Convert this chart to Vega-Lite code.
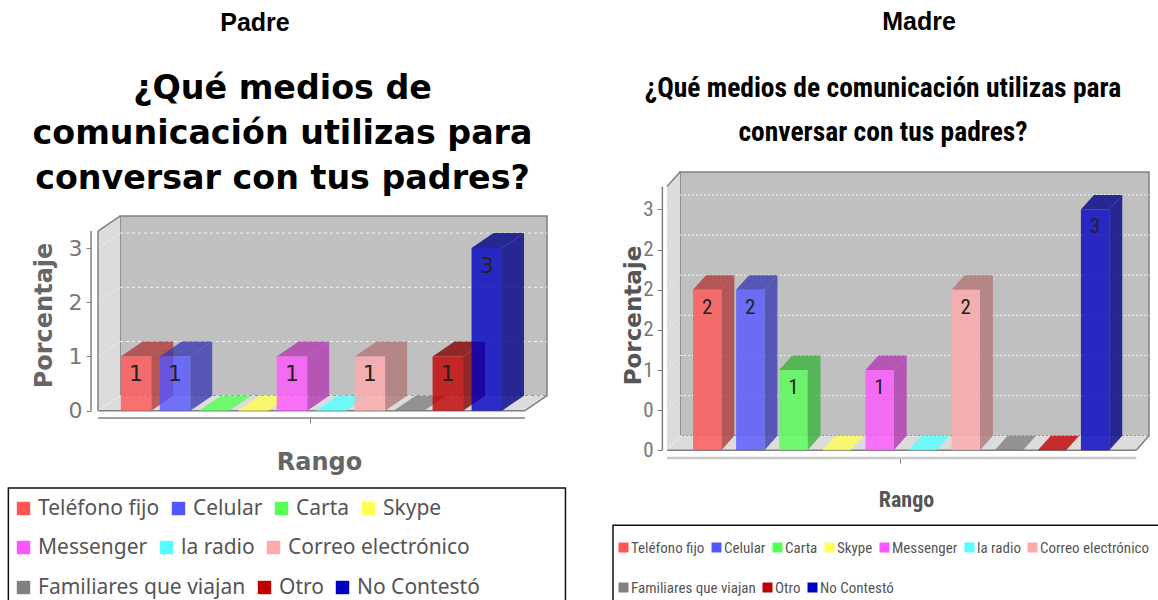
{"$schema":"https://vega.github.io/schema/vega-lite/v6.json","padding":{"left":7,"top":9,"right":0,"bottom":0},"background":"white","config":{"view":{"stroke":null},"concat":{"spacing":0}},
"datasets":{
"padre":[{"medio":"Teléfono fijo","orden":0,"valor":1},{"medio":"Celular","orden":1,"valor":1},{"medio":"Carta","orden":2,"valor":0},{"medio":"Skype","orden":3,"valor":0},{"medio":"Messenger","orden":4,"valor":1},{"medio":"la radio","orden":5,"valor":0},{"medio":"Correo electrónico","orden":6,"valor":1},{"medio":"Familiares que viajan","orden":7,"valor":0},{"medio":"Otro","orden":8,"valor":1},{"medio":"No Contestó","orden":9,"valor":3}],
"madre":[{"medio":"Teléfono fijo","orden":0,"valor":2},{"medio":"Celular","orden":1,"valor":2},{"medio":"Carta","orden":2,"valor":1},{"medio":"Skype","orden":3,"valor":0},{"medio":"Messenger","orden":4,"valor":1},{"medio":"la radio","orden":5,"valor":0},{"medio":"Correo electrónico","orden":6,"valor":2},{"medio":"Familiares que viajan","orden":7,"valor":0},{"medio":"Otro","orden":8,"valor":0},{"medio":"No Contestó","orden":9,"valor":3}],
"gridP":[{"v":0},{"v":1},{"v":2},{"v":3}],
"gridM":[{"v":0},{"v":0.5},{"v":1},{"v":1.5},{"v":2},{"v":2.5},{"v":3}],
"marco":[{"parte":"marco"}]},
"hconcat":[
{"title":{"text":"Padre","font":"Liberation Sans","fontSize":25,"fontWeight":"bold","color":"#000000","anchor":"start","frame":"group","align":"center","dx":157,"offset":36},
"vconcat":[{
"title":{"text":["¿Qué medios de","comunicación utilizas para","conversar con tus padres?"],"font":"DejaVu Sans","fontSize":33.3,"fontWeight":"bold","color":"#000000","lineHeight":45,"anchor":"middle","dx":-40,"offset":0,"dy":24},
"width":449,"height":246,
"resolve":{"scale":{"color":"independent"},"axis":{"x":"independent","y":"independent"}},
"layer":[
{"data":{"name":"marco"},"mark":{"type":"rect","fill":"#c0c0c0","stroke":"#808080","strokeWidth":1.5},"encoding":{
"x":{"datum":-0.021,"type":"quantitative","title":null,"scale":{"domain":[-0.585,10.936],"nice":false,"zero":false},"axis":{"domain":false,"grid":false,"labels":false,"values":[4.859],"tickSize":5,"tickColor":"#808080","title":"Rango","titleX":221,"titleFont":"DejaVu Sans","titleFontSize":24,"titleFontWeight":"bold","titleColor":"#666666","titlePadding":27}},
"x2":{"datum":10.936},
"y":{"datum":0.277,"type":"quantitative","scale":{"domain":[-0.135,4.404],"nice":false,"zero":false},"axis":{"domain":false,"grid":false,"offset":7,"values":[0,1,2,3],"tickSize":5,"tickColor":"#808080","labelFont":"DejaVu Sans","labelFontSize":22,"labelColor":"#777777","labelPadding":4,"title":"Porcentaje","titleY":143,"titleFont":"DejaVu Sans","titleFontSize":24,"titleFontWeight":"bold","titleColor":"#666666","titlePadding":12}},
"y2":{"datum":3.592}}},
{"data":{"name":"marco"},"transform":[{"calculate":"[0,1]","as":"t"},{"flatten":["t"]},{"calculate":"-0.585+datum.t*0.564","as":"xa"},{"calculate":"datum.t*0.277","as":"lo"},{"calculate":"3.315+datum.t*0.277","as":"hi"}],"mark":{"type":"area","fill":"#dcdcdc","orient":"vertical"},"encoding":{"x":{"field":"xa","type":"quantitative","scale":{"domain":[-0.585,10.936],"nice":false,"zero":false},"axis":null},"y":{"field":"lo","type":"quantitative","scale":{"domain":[-0.135,4.404],"nice":false,"zero":false},"axis":null},"y2":{"field":"hi"}}},
{"data":{"name":"marco"},"transform":[{"calculate":"[0,1,2,3]","as":"t"},{"flatten":["t"]},{"calculate":"[-0.585,-0.021,10.372,10.936][datum.t]","as":"xa"},{"calculate":"datum.t==3?0.277:0","as":"lo"},{"calculate":"datum.t==0?0:0.277","as":"hi"}],"mark":{"type":"area","fill":"#dcdcdc","orient":"vertical"},"encoding":{"x":{"field":"xa","type":"quantitative","scale":{"domain":[-0.585,10.936],"nice":false,"zero":false},"axis":null},"y":{"field":"lo","type":"quantitative","scale":{"domain":[-0.135,4.404],"nice":false,"zero":false},"axis":null},"y2":{"field":"hi"}}},
{"data":{"name":"gridP"},"transform":[{"calculate":"datum.v+0.277","as":"vb"}],"mark":{"type":"rule","color":"#ffffff","strokeDash":[3,3],"strokeWidth":1,"opacity":0.8},"encoding":{"x":{"datum":-0.021,"type":"quantitative","scale":{"domain":[-0.585,10.936],"nice":false,"zero":false},"axis":null},"x2":{"datum":10.936},"y":{"field":"vb","type":"quantitative","scale":{"domain":[-0.135,4.404],"nice":false,"zero":false},"axis":null}}},
{"data":{"name":"gridP"},"transform":[{"calculate":"datum.v+0.277","as":"vb"}],"mark":{"type":"rule","color":"#ffffff","strokeDash":[3,3],"strokeWidth":1,"opacity":0.6},"encoding":{"x":{"datum":-0.585,"type":"quantitative","scale":{"domain":[-0.585,10.936],"nice":false,"zero":false},"axis":null},"x2":{"datum":-0.021},"y":{"field":"v","type":"quantitative","scale":{"domain":[-0.135,4.404],"nice":false,"zero":false},"axis":null},"y2":{"field":"vb"}}},
{"data":{"name":"marco"},"mark":{"type":"rule","color":"#808080","strokeWidth":1.5},"encoding":{"x":{"datum":-0.585,"type":"quantitative","scale":{"domain":[-0.585,10.936],"nice":false,"zero":false},"axis":null},"y":{"datum":0,"type":"quantitative","scale":{"domain":[-0.135,4.404],"nice":false,"zero":false},"axis":null},"y2":{"datum":3.315}}},
{"data":{"name":"marco"},"mark":{"type":"rule","color":"#808080","strokeWidth":1.5},"encoding":{"x":{"datum":-0.585,"type":"quantitative","scale":{"domain":[-0.585,10.936],"nice":false,"zero":false},"axis":null},"x2":{"datum":-0.021},"y":{"datum":3.315,"type":"quantitative","scale":{"domain":[-0.135,4.404],"nice":false,"zero":false},"axis":null},"y2":{"datum":3.592}}},
{"data":{"name":"marco"},"mark":{"type":"rule","color":"#808080","strokeWidth":1.5},"encoding":{"x":{"datum":-0.585,"type":"quantitative","scale":{"domain":[-0.585,10.936],"nice":false,"zero":false},"axis":null},"x2":{"datum":10.372},"y":{"datum":0,"type":"quantitative","scale":{"domain":[-0.135,4.404],"nice":false,"zero":false},"axis":null}}},
{"data":{"name":"marco"},"mark":{"type":"rule","color":"#808080","strokeWidth":1.5},"encoding":{"x":{"datum":10.372,"type":"quantitative","scale":{"domain":[-0.585,10.936],"nice":false,"zero":false},"axis":null},"x2":{"datum":10.936},"y":{"datum":0,"type":"quantitative","scale":{"domain":[-0.135,4.404],"nice":false,"zero":false},"axis":null},"y2":{"datum":0.277}}},
{"data":{"name":"marco"},"mark":{"type":"rule","color":"#808080","strokeWidth":1.5},"encoding":{"x":{"datum":-0.585,"type":"quantitative","scale":{"domain":[-0.585,10.936],"nice":false,"zero":false},"axis":null},"x2":{"datum":10.372},"y":{"datum":-0.135,"type":"quantitative","scale":{"domain":[-0.135,4.404],"nice":false,"zero":false},"axis":null}}},
{"data":{"name":"marco"},"mark":{"type":"rule","color":"#808080","strokeWidth":1.5,"clip":false},"encoding":{"x":{"datum":-0.764,"type":"quantitative","scale":{"domain":[-0.585,10.936],"nice":false,"zero":false},"axis":null},"y":{"datum":0,"type":"quantitative","scale":{"domain":[-0.135,4.404],"nice":false,"zero":false},"axis":null},"y2":{"datum":3.315}}},
{"data":{"name":"padre"},"transform":[{"filter":"datum.valor==0"},{"calculate":"[0,1,2,3]","as":"t"},{"flatten":["t"]},{"calculate":"datum.orden+[0,0.564,0.782,1.346][datum.t]","as":"xa"},{"calculate":"datum.t==3?0.277:0","as":"lo"},{"calculate":"datum.t==0?0:0.277","as":"hi"}],"mark":{"type":"area","orient":"vertical","opacity":0.8},"encoding":{"x":{"field":"xa","type":"quantitative","scale":{"domain":[-0.585,10.936],"nice":false,"zero":false},"axis":null},"y":{"field":"lo","type":"quantitative","scale":{"domain":[-0.135,4.404],"nice":false,"zero":false},"axis":null},"y2":{"field":"hi"},"color":{"field":"medio","type":"nominal","legend":null,"scale":{"domain":["Teléfono fijo","Celular","Carta","Skype","Messenger","la radio","Correo electrónico","Familiares que viajan","Otro","No Contestó"],"range":["#FF5555","#5555FF","#55FF55","#FFFF55","#FF55FF","#55FFFF","#FFAAAA","#808080","#C00000","#0000C0"]}}}},
{"data":{"name":"padre"},"transform":[{"filter":"datum.valor>0"},{"calculate":"[0,1]","as":"t"},{"flatten":["t"]},{"calculate":"datum.orden+0.782+datum.t*0.564","as":"xa"},{"calculate":"datum.t*0.277","as":"lo"},{"calculate":"datum.valor+datum.t*0.277","as":"hi"}],"mark":{"type":"area","orient":"vertical","opacity":0.8},"encoding":{"x":{"field":"xa","type":"quantitative","scale":{"domain":[-0.585,10.936],"nice":false,"zero":false},"axis":null},"y":{"field":"lo","type":"quantitative","scale":{"domain":[-0.135,4.404],"nice":false,"zero":false},"axis":null},"y2":{"field":"hi"},"color":{"field":"medio","type":"nominal","legend":null,"scale":{"domain":["Teléfono fijo","Celular","Carta","Skype","Messenger","la radio","Correo electrónico","Familiares que viajan","Otro","No Contestó"],"range":["#B23B3B","#3B3BB2","#3BB23B","#B2B23B","#B23BB2","#3BB2B2","#B27777","#595959","#860000","#000086"]}}}},
{"data":{"name":"padre"},"transform":[{"filter":"datum.valor>0"},{"calculate":"[0,1,2,3]","as":"t"},{"flatten":["t"]},{"calculate":"datum.orden+[0,0.564,0.782,1.346][datum.t]","as":"xa"},{"calculate":"datum.valor+(datum.t==3?0.277:0)","as":"lo"},{"calculate":"datum.valor+(datum.t==0?0:0.277)","as":"hi"}],"mark":{"type":"area","orient":"vertical","opacity":0.8},"encoding":{"x":{"field":"xa","type":"quantitative","scale":{"domain":[-0.585,10.936],"nice":false,"zero":false},"axis":null},"y":{"field":"lo","type":"quantitative","scale":{"domain":[-0.135,4.404],"nice":false,"zero":false},"axis":null},"y2":{"field":"hi"},"color":{"field":"medio","type":"nominal","legend":null,"scale":{"domain":["Teléfono fijo","Celular","Carta","Skype","Messenger","la radio","Correo electrónico","Familiares que viajan","Otro","No Contestó"],"range":["#B23B3B","#3B3BB2","#3BB23B","#B2B23B","#B23BB2","#3BB2B2","#B27777","#595959","#860000","#000086"]}}}},
{"data":{"name":"padre"},"transform":[{"filter":"datum.valor>0"},{"calculate":"datum.orden+0.782","as":"xb"}],"mark":{"type":"rect","opacity":0.8},"encoding":{"x":{"field":"orden","type":"quantitative","scale":{"domain":[-0.585,10.936],"nice":false,"zero":false},"axis":null},"x2":{"field":"xb"},"y":{"field":"valor","type":"quantitative","scale":{"domain":[-0.135,4.404],"nice":false,"zero":false},"axis":null},"y2":{"datum":0},"color":{"field":"medio","type":"nominal","legend":null,"scale":{"domain":["Teléfono fijo","Celular","Carta","Skype","Messenger","la radio","Correo electrónico","Familiares que viajan","Otro","No Contestó"],"range":["#FF5555","#5555FF","#55FF55","#FFFF55","#FF55FF","#55FFFF","#FFAAAA","#808080","#C00000","#0000C0"]}}}},
{"data":{"name":"padre"},"transform":[{"filter":"datum.valor>0"},{"calculate":"datum.orden+0.391","as":"xc"}],"mark":{"type":"text","font":"DejaVu Sans","fontSize":22,"color":"#222222","baseline":"middle","yOffset":18},"encoding":{"x":{"field":"xc","type":"quantitative","scale":{"domain":[-0.585,10.936],"nice":false,"zero":false},"axis":null},"y":{"field":"valor","type":"quantitative","scale":{"domain":[-0.135,4.404],"nice":false,"zero":false},"axis":null},"text":{"field":"valor","type":"quantitative"}}},
{"data":{"name":"marco"},"mark":{"type":"rect","fill":null,"stroke":"#111111","strokeWidth":1.5,"clip":false},"encoding":{"x":{"datum":-2.885,"type":"quantitative","scale":{"domain":[-0.585,10.936],"nice":false,"zero":false},"axis":null},"x2":{"datum":11.41},"y":{"datum":-1.426,"type":"quantitative","scale":{"domain":[-0.135,4.404],"nice":false,"zero":false},"axis":null},"y2":{"datum":-3.511}}},
{"data":{"name":"padre"},"transform":[{"filter":"datum.orden<4"}],"mark":{"type":"point","filled":true,"size":0},"encoding":{"color":{"field":"medio","type":"nominal","scale":{"domain":["Teléfono fijo","Celular","Carta","Skype"],"range":["#FF5555","#5555FF","#55FF55","#FFFF55"]},"legend":{"orient":"none","legendX":-85,"legendY":326,"title":null,"direction":"horizontal","columns":4,"gridAlign":"none","padding":0,"columnPadding":8,"symbolType":"square","symbolSize":180,"symbolOpacity":1,"symbolStrokeWidth":0,"labelFont":"Noto Sans","labelFontSize":21,"labelColor":"#555555","labelOffset":4,"labelLimit":300}}}},
{"data":{"name":"padre"},"transform":[{"filter":"datum.orden>=4 && datum.orden<7"}],"mark":{"type":"point","filled":true,"size":0},"encoding":{"color":{"field":"medio","type":"nominal","scale":{"domain":["Messenger","la radio","Correo electrónico"],"range":["#FF55FF","#55FFFF","#FFAAAA"]},"legend":{"orient":"none","legendX":-85,"legendY":365,"title":null,"direction":"horizontal","columns":3,"gridAlign":"none","padding":0,"columnPadding":8,"symbolType":"square","symbolSize":180,"symbolOpacity":1,"symbolStrokeWidth":0,"labelFont":"Noto Sans","labelFontSize":21,"labelColor":"#555555","labelOffset":4,"labelLimit":300}}}},
{"data":{"name":"padre"},"transform":[{"filter":"datum.orden>=7"}],"mark":{"type":"point","filled":true,"size":0},"encoding":{"color":{"field":"medio","type":"nominal","scale":{"domain":["Familiares que viajan","Otro","No Contestó"],"range":["#808080","#C00000","#0000C0"]},"legend":{"orient":"none","legendX":-85,"legendY":405,"title":null,"direction":"horizontal","columns":3,"gridAlign":"none","padding":0,"columnPadding":8,"symbolType":"square","symbolSize":180,"symbolOpacity":1,"symbolStrokeWidth":0,"labelFont":"Noto Sans","labelFontSize":21,"labelColor":"#555555","labelOffset":4,"labelLimit":300}}}}
]}]},
{"title":{"text":"Madre","font":"Liberation Sans","fontSize":25,"fontWeight":"bold","color":"#000000","anchor":"start","frame":"group","align":"center","dx":252,"offset":40},
"vconcat":[{
"title":{"text":["¿Qué medios de comunicación utilizas para","conversar con tus padres?"],"font":"Roboto Condensed","fontSize":27.5,"fontWeight":"bold","color":"#000000","lineHeight":44,"anchor":"middle","dx":-25,"offset":25},
"width":482,"height":286,
"resolve":{"scale":{"color":"independent"},"axis":{"x":"independent","y":"independent"}},
"layer":[
{"data":{"name":"marco"},"mark":{"type":"rect","fill":"#c0c0c0","stroke":"#808080","strokeWidth":1.5},"encoding":{
"x":{"datum":-0.301,"type":"quantitative","scale":{"domain":[-0.603,10.58],"nice":false,"zero":false},"axis":{"domain":false,"grid":false,"labels":false,"values":[4.81],"tickSize":5,"tickColor":"#808080","title":"Rango","titleX":239,"titleFont":"Roboto Condensed","titleFontSize":22,"titleFontWeight":"bold","titleColor":"#555555","titlePadding":26}},
"x2":{"datum":10.58},
"y":{"datum":0.181,"type":"quantitative","scale":{"domain":[-0.096,3.466],"nice":false,"zero":false},"axis":{"domain":false,"grid":false,"offset":5,"values":[0,0.5,1,1.5,2,2.5,3],"labelExpr":"datum.value==0||datum.value==0.5?'0':datum.value==1?'1':datum.value==3?'3':'2'","tickSize":5,"tickColor":"#808080","labelFont":"Roboto Condensed","labelFontSize":21,"labelColor":"#777777","labelPadding":4,"title":"Porcentaje","titleFont":"DejaVu Sans","titleFontSize":23,"titleFontWeight":"bold","titleColor":"#555555","titlePadding":-3}},
"y2":{"datum":3.466}}},
{"data":{"name":"marco"},"transform":[{"calculate":"[0,1]","as":"t"},{"flatten":["t"]},{"calculate":"-0.603+datum.t*0.302","as":"xa"},{"calculate":"datum.t*0.181","as":"lo"},{"calculate":"3.285+datum.t*0.181","as":"hi"}],"mark":{"type":"area","fill":"#dcdcdc","orient":"vertical"},"encoding":{"x":{"field":"xa","type":"quantitative","scale":{"domain":[-0.603,10.58],"nice":false,"zero":false},"axis":null},"y":{"field":"lo","type":"quantitative","scale":{"domain":[-0.096,3.466],"nice":false,"zero":false},"axis":null},"y2":{"field":"hi"}}},
{"data":{"name":"marco"},"transform":[{"calculate":"[0,1,2,3]","as":"t"},{"flatten":["t"]},{"calculate":"[-0.603,-0.301,10.285,10.58][datum.t]","as":"xa"},{"calculate":"datum.t==3?0.181:0","as":"lo"},{"calculate":"datum.t==0?0:0.181","as":"hi"}],"mark":{"type":"area","fill":"#dcdcdc","orient":"vertical"},"encoding":{"x":{"field":"xa","type":"quantitative","scale":{"domain":[-0.603,10.58],"nice":false,"zero":false},"axis":null},"y":{"field":"lo","type":"quantitative","scale":{"domain":[-0.096,3.466],"nice":false,"zero":false},"axis":null},"y2":{"field":"hi"}}},
{"data":{"name":"gridM"},"transform":[{"calculate":"datum.v+0.181","as":"vb"}],"mark":{"type":"rule","color":"#ffffff","strokeDash":[2,2],"strokeWidth":1,"opacity":0.8},"encoding":{"x":{"datum":-0.301,"type":"quantitative","scale":{"domain":[-0.603,10.58],"nice":false,"zero":false},"axis":null},"x2":{"datum":10.58},"y":{"field":"vb","type":"quantitative","scale":{"domain":[-0.096,3.466],"nice":false,"zero":false},"axis":null}}},
{"data":{"name":"gridM"},"transform":[{"calculate":"datum.v+0.181","as":"vb"}],"mark":{"type":"rule","color":"#ffffff","strokeDash":[2,2],"strokeWidth":1,"opacity":0.6},"encoding":{"x":{"datum":-0.603,"type":"quantitative","scale":{"domain":[-0.603,10.58],"nice":false,"zero":false},"axis":null},"x2":{"datum":-0.301},"y":{"field":"v","type":"quantitative","scale":{"domain":[-0.096,3.466],"nice":false,"zero":false},"axis":null},"y2":{"field":"vb"}}},
{"data":{"name":"marco"},"mark":{"type":"rule","color":"#808080","strokeWidth":1.5},"encoding":{"x":{"datum":-0.603,"type":"quantitative","scale":{"domain":[-0.603,10.58],"nice":false,"zero":false},"axis":null},"x2":{"datum":-0.301},"y":{"datum":3.285,"type":"quantitative","scale":{"domain":[-0.096,3.466],"nice":false,"zero":false},"axis":null},"y2":{"datum":3.466}}},
{"data":{"name":"marco"},"mark":{"type":"rule","color":"#808080","strokeWidth":1.5},"encoding":{"x":{"datum":-0.603,"type":"quantitative","scale":{"domain":[-0.603,10.58],"nice":false,"zero":false},"axis":null},"x2":{"datum":10.285},"y":{"datum":0,"type":"quantitative","scale":{"domain":[-0.096,3.466],"nice":false,"zero":false},"axis":null}}},
{"data":{"name":"marco"},"mark":{"type":"rule","color":"#808080","strokeWidth":1.5},"encoding":{"x":{"datum":10.285,"type":"quantitative","scale":{"domain":[-0.603,10.58],"nice":false,"zero":false},"axis":null},"x2":{"datum":10.58},"y":{"datum":0,"type":"quantitative","scale":{"domain":[-0.096,3.466],"nice":false,"zero":false},"axis":null},"y2":{"datum":0.181}}},
{"data":{"name":"marco"},"mark":{"type":"rule","color":"#c8c8c8","strokeWidth":2.5},"encoding":{"x":{"datum":-0.603,"type":"quantitative","scale":{"domain":[-0.603,10.58],"nice":false,"zero":false},"axis":null},"x2":{"datum":10.285},"y":{"datum":-0.096,"type":"quantitative","scale":{"domain":[-0.096,3.466],"nice":false,"zero":false},"axis":null}}},
{"data":{"name":"marco"},"mark":{"type":"rule","color":"#808080","strokeWidth":1.5,"clip":false},"encoding":{"x":{"datum":-0.71,"type":"quantitative","scale":{"domain":[-0.603,10.58],"nice":false,"zero":false},"axis":null},"y":{"datum":0,"type":"quantitative","scale":{"domain":[-0.096,3.466],"nice":false,"zero":false},"axis":null},"y2":{"datum":3.285}}},
{"data":{"name":"madre"},"transform":[{"filter":"datum.valor==0"},{"calculate":"[0,1,2,3]","as":"t"},{"flatten":["t"]},{"calculate":"datum.orden+[0,0.302,0.657,0.959][datum.t]","as":"xa"},{"calculate":"datum.t==3?0.181:0","as":"lo"},{"calculate":"datum.t==0?0:0.181","as":"hi"}],"mark":{"type":"area","orient":"vertical","opacity":0.8},"encoding":{"x":{"field":"xa","type":"quantitative","scale":{"domain":[-0.603,10.58],"nice":false,"zero":false},"axis":null},"y":{"field":"lo","type":"quantitative","scale":{"domain":[-0.096,3.466],"nice":false,"zero":false},"axis":null},"y2":{"field":"hi"},"color":{"field":"medio","type":"nominal","legend":null,"scale":{"domain":["Teléfono fijo","Celular","Carta","Skype","Messenger","la radio","Correo electrónico","Familiares que viajan","Otro","No Contestó"],"range":["#FF5555","#5555FF","#55FF55","#FFFF55","#FF55FF","#55FFFF","#FFAAAA","#808080","#C00000","#0000C0"]}}}},
{"data":{"name":"madre"},"transform":[{"filter":"datum.valor>0"},{"calculate":"[0,1]","as":"t"},{"flatten":["t"]},{"calculate":"datum.orden+0.657+datum.t*0.302","as":"xa"},{"calculate":"datum.t*0.181","as":"lo"},{"calculate":"datum.valor+datum.t*0.181","as":"hi"}],"mark":{"type":"area","orient":"vertical","opacity":0.8},"encoding":{"x":{"field":"xa","type":"quantitative","scale":{"domain":[-0.603,10.58],"nice":false,"zero":false},"axis":null},"y":{"field":"lo","type":"quantitative","scale":{"domain":[-0.096,3.466],"nice":false,"zero":false},"axis":null},"y2":{"field":"hi"},"color":{"field":"medio","type":"nominal","legend":null,"scale":{"domain":["Teléfono fijo","Celular","Carta","Skype","Messenger","la radio","Correo electrónico","Familiares que viajan","Otro","No Contestó"],"range":["#B23B3B","#3B3BB2","#3BB23B","#B2B23B","#B23BB2","#3BB2B2","#B27777","#595959","#860000","#000086"]}}}},
{"data":{"name":"madre"},"transform":[{"filter":"datum.valor>0"},{"calculate":"[0,1,2,3]","as":"t"},{"flatten":["t"]},{"calculate":"datum.orden+[0,0.302,0.657,0.959][datum.t]","as":"xa"},{"calculate":"datum.valor+(datum.t==3?0.181:0)","as":"lo"},{"calculate":"datum.valor+(datum.t==0?0:0.181)","as":"hi"}],"mark":{"type":"area","orient":"vertical","opacity":0.8},"encoding":{"x":{"field":"xa","type":"quantitative","scale":{"domain":[-0.603,10.58],"nice":false,"zero":false},"axis":null},"y":{"field":"lo","type":"quantitative","scale":{"domain":[-0.096,3.466],"nice":false,"zero":false},"axis":null},"y2":{"field":"hi"},"color":{"field":"medio","type":"nominal","legend":null,"scale":{"domain":["Teléfono fijo","Celular","Carta","Skype","Messenger","la radio","Correo electrónico","Familiares que viajan","Otro","No Contestó"],"range":["#B23B3B","#3B3BB2","#3BB23B","#B2B23B","#B23BB2","#3BB2B2","#B27777","#595959","#860000","#000086"]}}}},
{"data":{"name":"madre"},"transform":[{"filter":"datum.valor>0"},{"calculate":"datum.orden+0.657","as":"xb"}],"mark":{"type":"rect","opacity":0.8},"encoding":{"x":{"field":"orden","type":"quantitative","scale":{"domain":[-0.603,10.58],"nice":false,"zero":false},"axis":null},"x2":{"field":"xb"},"y":{"field":"valor","type":"quantitative","scale":{"domain":[-0.096,3.466],"nice":false,"zero":false},"axis":null},"y2":{"datum":0},"color":{"field":"medio","type":"nominal","legend":null,"scale":{"domain":["Teléfono fijo","Celular","Carta","Skype","Messenger","la radio","Correo electrónico","Familiares que viajan","Otro","No Contestó"],"range":["#FF5555","#5555FF","#55FF55","#FFFF55","#FF55FF","#55FFFF","#FFAAAA","#808080","#C00000","#0000C0"]}}}},
{"data":{"name":"madre"},"transform":[{"filter":"datum.valor>0"},{"calculate":"datum.orden+0.328","as":"xc"}],"mark":{"type":"text","font":"Roboto Condensed","fontSize":21,"color":"#222222","baseline":"middle","yOffset":18},"encoding":{"x":{"field":"xc","type":"quantitative","scale":{"domain":[-0.603,10.58],"nice":false,"zero":false},"axis":null},"y":{"field":"valor","type":"quantitative","scale":{"domain":[-0.096,3.466],"nice":false,"zero":false},"axis":null},"text":{"field":"valor","type":"quantitative"}}},
{"data":{"name":"marco"},"mark":{"type":"rect","fill":null,"stroke":"#111111","strokeWidth":1.5,"clip":false},"encoding":{"x":{"datum":-1.856,"type":"quantitative","scale":{"domain":[-0.603,10.58],"nice":false,"zero":false},"axis":null},"x2":{"datum":10.85},"y":{"datum":-0.934,"type":"quantitative","scale":{"domain":[-0.096,3.466],"nice":false,"zero":false},"axis":null},"y2":{"datum":-1.88}}},
{"data":{"name":"madre"},"transform":[{"filter":"datum.orden<7"}],"mark":{"type":"point","filled":true,"size":0},"encoding":{"color":{"field":"medio","type":"nominal","scale":{"domain":["Teléfono fijo","Celular","Carta","Skype","Messenger","la radio","Correo electrónico"],"range":["#FF5555","#5555FF","#55FF55","#FFFF55","#FF55FF","#55FFFF","#FFAAAA"]},"legend":{"orient":"none","legendX":-51,"legendY":368,"title":null,"direction":"horizontal","columns":7,"gridAlign":"none","padding":0,"columnPadding":4,"symbolType":"square","symbolSize":100,"symbolOpacity":1,"symbolStrokeWidth":0,"labelFont":"Roboto Condensed","labelFontSize":15,"labelColor":"#555555","labelOffset":0,"labelLimit":300}}}},
{"data":{"name":"madre"},"transform":[{"filter":"datum.orden>=7"}],"mark":{"type":"point","filled":true,"size":0},"encoding":{"color":{"field":"medio","type":"nominal","scale":{"domain":["Familiares que viajan","Otro","No Contestó"],"range":["#808080","#C00000","#0000C0"]},"legend":{"orient":"none","legendX":-51,"legendY":408,"title":null,"direction":"horizontal","columns":3,"gridAlign":"none","padding":0,"columnPadding":4,"symbolType":"square","symbolSize":100,"symbolOpacity":1,"symbolStrokeWidth":0,"labelFont":"Roboto Condensed","labelFontSize":15,"labelColor":"#555555","labelOffset":0,"labelLimit":300}}}}
]}]}
],"spacing":45,"align":"none"}
